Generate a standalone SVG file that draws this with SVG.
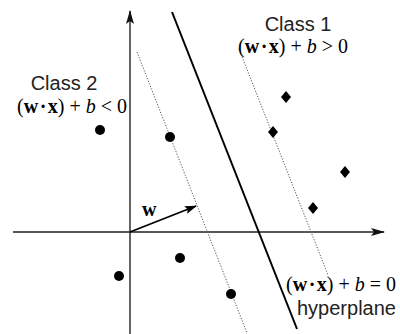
<svg xmlns="http://www.w3.org/2000/svg" width="400" height="334" viewBox="0 0 400 334">
<style>
.axis{stroke:#222;stroke-width:1.4;fill:none}
.hyp{stroke:#000;stroke-width:2;fill:none}
.margin{stroke:#555;stroke-width:1;stroke-dasharray:1.2 1.6;fill:none}
.dot{fill:#000}
.dia{fill:#000}
.sans{font-family:"Liberation Sans",Arial,sans-serif;font-size:20px;fill:#222}
.math{font-family:"Liberation Serif","Times New Roman",serif;font-size:20px;fill:#000}
.b{font-weight:bold}
.i{font-style:italic}
</style>
<defs>
<marker id="ah" markerWidth="14" markerHeight="8" refX="13" refY="4" orient="auto" markerUnits="userSpaceOnUse">
<path d="M0,0 L14,4 L0,8 L3,4 Z" fill="#111"/>
</marker>
<marker id="wh" markerWidth="12" markerHeight="8" refX="11" refY="4" orient="auto" markerUnits="userSpaceOnUse">
<path d="M0,0 L12,4 L0,8 L2,4 Z" fill="#000"/>
</marker>
</defs>
<g id="connectors">
<line id="x-axis" class="axis" x1="13" y1="232" x2="384" y2="232" marker-end="url(#ah)"/>
<line id="y-axis" class="axis" x1="130" y1="334" x2="130" y2="11" marker-end="url(#ah)"/>
<line id="hyperplane" class="hyp" x1="172" y1="12" x2="297" y2="329"/>
<line id="margin2" class="margin" x1="137" y1="52" x2="247" y2="333"/>
<line id="margin1" class="margin" x1="239" y1="49" x2="328" y2="275"/>
<line id="w-vector" stroke="#000" stroke-width="1.8" x1="130" y1="232" x2="196" y2="206" marker-end="url(#wh)"/>
</g>
<g id="class2-points">
<circle class="dot" cx="100" cy="130" r="5"/>
<circle class="dot" cx="170" cy="137" r="5"/>
<circle class="dot" cx="180" cy="258" r="5"/>
<circle class="dot" cx="119" cy="276" r="5"/>
<circle class="dot" cx="231" cy="294" r="5"/>
</g>
<g id="class1-points">
<path class="dia" d="M286,91 L291,97 L286,103 L281,97 Z"/>
<path class="dia" d="M273,126 L278,132 L273,138 L268,132 Z"/>
<path class="dia" d="M345,166 L350,172 L345,178 L340,172 Z"/>
<path class="dia" d="M313,202 L318,208 L313,214 L308,208 Z"/>
</g>
<g id="class2-label">
<text class="sans" x="64" y="90" text-anchor="middle">Class 2</text>
<text class="math" x="17" y="113">(<tspan class="b">w</tspan><tspan class="b" dx="1.5">·</tspan><tspan class="b" dx="1.5">x</tspan>) + <tspan class="i">b</tspan> &lt; 0</text>
</g>
<g id="class1-label">
<text class="sans" x="298" y="31" text-anchor="middle">Class 1</text>
<text class="math" x="238" y="53">(<tspan class="b">w</tspan><tspan class="b" dx="1.5">·</tspan><tspan class="b" dx="1.5">x</tspan>) + <tspan class="i">b</tspan> &gt; 0</text>
</g>
<g id="hyperplane-label">
<text class="math" x="286" y="291">(<tspan class="b">w</tspan><tspan class="b" dx="1.5">·</tspan><tspan class="b" dx="1.5">x</tspan>) + <tspan class="i">b</tspan> = 0</text>
<text class="sans" x="297" y="315">hyperplane</text>
</g>
<g id="w-label">
<text class="math b" x="142" y="216">w</text>
</g>
</svg>
